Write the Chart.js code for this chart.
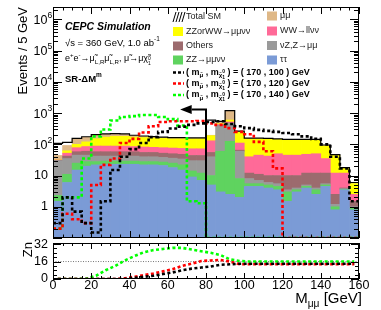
<!DOCTYPE html>
<html>
<head>
<meta charset="utf-8">
<script src="https://cdn.jsdelivr.net/npm/chart.js@4.4.1/dist/chart.umd.min.js"></script>
<style>
  body { margin: 0; background: #fff; }
  #box { position: relative; width: 381px; height: 310px; }
  #box canvas { position: absolute; left: 0; top: 0; }
</style>
</head>
<body>
<div id="box">
  <canvas id="mainChart" width="381" height="310"></canvas>
  <canvas id="znChart" width="381" height="310"></canvas>
</div>
<script>
// lower edges of the 5 GeV bins in M_mumu
const massBins = [0, 5, 10, 15, 20, 25, 30, 35, 40, 45, 50, 55, 60, 65, 70, 75,
                  80, 85, 90, 95, 100, 105, 110, 115, 120, 125, 130, 135, 140, 145, 150, 155];

// backgrounds, events / 5 GeV (stacked bottom -> top)
const tautau   = [1.5, 6, 15, 20, 22, 23, 23, 23, 23, 22, 22, 21, 18, 15, 9, 7, 5, 3, 2.5, 2, 4.5, 4.5, 4, 3.5, 1.5, 3, 4, 2.5, 4.5, 0.8, 3.5, 0.8];
const zzMMNN   = [0.8, 5, 10, 8, 6, 6, 6, 6, 6, 6, 6, 6, 7, 7, 5, 5, 5, 57, 122, 6, 1, 1, 1, 1, 1.5, 0.5, 0.5, 1, 0.5, 0.2, 0.1, 0.1];
const nuZ      = [27.7, 24, 20, 17, 14, 13, 13, 13, 13, 12, 12, 11, 11, 12, 16, 18, 30, 340, 345, 52, 2.5, 1.5, 1, 1, 0.5, 0.5, 0.5, 0.5, 0.5, 0.2, 0.2, 0.1];
const others   = [1, 7, 13, 15, 16, 16, 16, 16, 16, 15, 15, 14, 14, 14, 14, 14, 15, 10, 10, 5, 4, 4, 4, 4.5, 6.5, 6, 7, 8, 6.5, 1.3, 0.2, 0.5];
const wwLVLV   = [0.5, 10, 20, 25, 30, 30, 30, 30, 27, 27, 25, 26, 26, 26, 28, 28, 75, 20, 40, 45, 28, 34, 32, 40, 35, 35, 36, 38, 23, 9.5, 8, 1];
const zzOrWW   = [0.5, 10, 22, 35, 62, 82, 92, 92, 85, 83, 80, 77, 74, 76, 78, 78, 60, 30, 80, 140, 110, 105, 108, 95, 95, 95, 92, 90, 55, 32, 5, 3];
const muMu     = [12, 30, 50, 50, 50, 40, 35, 30, 20, 15, 12, 10, 10, 8, 6, 5, 5, 40, 580, 5, 2, 2, 1, 1, 1, 1, 1, 1, 1, 0.5, 0.2, 0.1];
const totalSM  = [107, 116, 155, 175, 205, 215, 220, 215, 195, 185, 177, 170, 165, 163, 160, 160, 600, 540, 1200, 265, 158, 158, 156, 150, 145, 145, 145, 145, 95, 47, 18, 6];

// signals (m_smuon, m_chi) = (170,100), (170,120), (170,140)
const sig100 = [0.3, 2, 0.7, 0.3, 0.15, 1.5, 15, 40, 70, 110, 170, 250, 320, 370, 420, 470, 520, 550, 450, 380, 330, 290, 270, 250, 230, 210, 180, 150, 100, 40, 17, 1.5];
const sig120 = [0.2, 0.6, 0.4, 0.3, 5, 22, 35, 110, 150, 240, 380, 520, 550, 550, 550, 560, 470, 420, 330, 250, 210, 120, 60, 17, 0, 0, 0, 0, 0, 0, 0, 0];
const sig140 = [0.2, 2, 2, 35, 180, 300, 580, 750, 800, 870, 870, 750, 640, 400, 1.5, 1.3, 0, 0, 0, 0, 0, 0, 0, 0, 0, 0, 0, 0, 0, 0, 0, 0];

// significance Zn per bin (lower pad)
const zn100 = [0, 0, 0, 0, 0, 0, 0, 0, 1, 2, 3, 4.5, 6, 8, 9.5, 10.5, 11.5, 13, 13.5, 14, 14, 14, 14, 14, 14, 14, 14, 14, 14, 14, 14, 14];
const zn120 = [0, 0, 0, 0, 0, 0, 0, 0.7, 2, 3.5, 5, 7, 9, 12, 14, 16.5, 17, 17.5, 16, 13.5, 13.5, 13.5, 13.5, 13.5, 13.5, 13.5, 13.5, 13.5, 13.5, 13.5, 13.5, 13.5];
const zn140 = [0, 0, 0, 0.3, 3, 8, 12, 17, 21, 24.5, 26.5, 27.5, 28.5, 28.5, 27, 25.5, 24, 22, 18, 16.5, 16, 16, 16, 16, 16, 16, 16, 16, 16, 16, 16, 16];
const znRef = 16;

// axis ticks
const logDecades = [-1, 0, 1, 2, 3, 4, 5, 6];
const xTickLabels = [0, 20, 40, 60, 80, 100, 120, 140, 160];
const znTickLabels = [0, 16, 32];

// cut and arrow
const cutValue = 80, arrowLevel = 1300, arrowTip = 66.5, arrowBase = 72.5;

const bkgNames  = ['ττ', 'ZZ→μμνν', 'νZ,Z→μμ', 'Others', 'WW→llνν', 'ZZorWW→μμνν', 'μμ'];
const bkgValues = [tautau, zzMMNN, nuZ, others, wwLVLV, zzOrWW, muMu];
const bkgColors = ['#7b9bd6', '#5fd35f', '#9a9a9a', '#9c6b6e', '#ff6a98', '#ffff00', '#dfb887'];
const sigMasses = [100, 120, 140];
const sigColors = ['#000000', '#ff0000', '#00ff00'];

const yMin = 0.1, yMax = 2.5e6;
const FONT = '"Liberation Sans", Arial, Helvetica, sans-serif';
const fnt = (size, style) => (style ? style + ' ' : '') + size + 'px ' + FONT;

const centers = massBins.map(m => m + 2.5);
const barPts = vals => vals.map((v, i) => ({x: centers[i], y: v}));
const stepPts = vals => {
  const pts = vals.map((v, i) => ({x: massBins[i], y: v > 0 ? v : yMin}));
  pts.push({x: 160, y: pts[pts.length - 1].y});
  return pts;
};

// draw text with sub/superscripts, returns end x
function rich(ctx, x, y, parts, size, style, measureOnly) {
  let cx = x;
  ctx.textBaseline = 'middle';
  ctx.textAlign = 'left';
  for (const [t, mode, t2] of parts) {
    if (mode === 'sub' || mode === 'sup') {
      ctx.font = fnt(size * 0.68, style);
      if (!measureOnly) ctx.fillText(t, cx, y + (mode === 'sub' ? size * 0.32 : -size * 0.4));
      cx += ctx.measureText(t).width;
    } else if (mode === 'subsup') {
      ctx.font = fnt(size * 0.55, style);
      if (!measureOnly) {
        ctx.fillText(t, cx, y + size * 0.55);
        ctx.fillText(t2, cx, y - size * 0.05);
      }
      cx += Math.max(ctx.measureText(t).width, ctx.measureText(t2).width);
    } else {
      ctx.font = fnt(size, style);
      if (!measureOnly) ctx.fillText(t, cx, y);
      cx += ctx.measureText(t).width;
    }
  }
  return cx;
}

const mainDecor = {
  id: 'mainDecor',
  afterDraw(chart) {
    const {ctx, chartArea: a, scales: {x, y}} = chart;
    ctx.save();
    ctx.fillStyle = '#000';
    ctx.strokeStyle = '#000';

    // cut line with arrow
    const cx = x.getPixelForValue(cutValue);
    const cy = y.getPixelForValue(arrowLevel);
    const hb = x.getPixelForValue(arrowBase);
    ctx.lineWidth = 2;
    ctx.beginPath();
    ctx.moveTo(cx, a.bottom);
    ctx.lineTo(cx, cy);
    ctx.lineTo(hb, cy);
    ctx.stroke();
    ctx.beginPath();
    ctx.moveTo(x.getPixelForValue(arrowTip), cy);
    ctx.lineTo(hb, cy - 4.5);
    ctx.lineTo(hb, cy + 4.5);
    ctx.closePath();
    ctx.fill();

    // frame
    ctx.lineWidth = 1;
    ctx.strokeRect(a.left + 0.5, a.top + 0.5, a.right - a.left - 1, a.bottom - a.top - 1);

    // log y ticks, both sides
    ctx.beginPath();
    logDecades.forEach(e => {
      for (let k = 1; k <= 9; k++) {
        const v = k * Math.pow(10, e);
        if (v < yMin || v > yMax) continue;
        const py = Math.round(y.getPixelForValue(v)) + 0.5;
        const len = k === 1 ? 9 : 5;
        ctx.moveTo(a.left, py); ctx.lineTo(a.left + len, py);
        ctx.moveTo(a.right, py); ctx.lineTo(a.right - len, py);
      }
    });
    // x ticks, bottom and top
    for (let v = 0; v <= 160; v += 5) {
      const px = Math.round(x.getPixelForValue(v)) + 0.5;
      const len = v % 20 === 0 ? 7 : 3.5;
      ctx.moveTo(px, a.bottom); ctx.lineTo(px, a.bottom - len);
      ctx.moveTo(px, a.top); ctx.lineTo(px, a.top + len);
    }
    ctx.stroke();

    // y labels
    logDecades.forEach(e => {
      if (e < 0) return;
      const py = y.getPixelForValue(Math.pow(10, e));
      ctx.textBaseline = 'middle';
      ctx.font = fnt(12.5);
      if (e < 2) {
        ctx.textAlign = 'right';
        ctx.fillText(e === 0 ? '1' : '10', 48, py);
      } else {
        ctx.textAlign = 'right';
        ctx.fillText('10', 47.5, py + 1);
        ctx.textAlign = 'left';
        ctx.font = fnt(8.5);
        ctx.fillText(String(e), 47.5, py - 4);
      }
    });

    // y title
    ctx.save();
    ctx.translate(23, 7);
    ctx.rotate(-Math.PI / 2);
    ctx.font = fnt(13);
    ctx.textAlign = 'right';
    ctx.textBaseline = 'middle';
    ctx.fillText('Events / 5 GeV', 0, 0);
    ctx.restore();

    // labels block
    ctx.fillStyle = '#000';
    ctx.font = fnt(10.5, 'italic bold');
    ctx.textAlign = 'left';
    ctx.textBaseline = 'middle';
    ctx.fillText('CEPC Simulation', 65, 27);
    rich(ctx, 65, 43, [['√s = 360 GeV, 1.0 ab'], ['-1', 'sup']], 9.5);
    rich(ctx, 65, 59, [['e'], ['+', 'sup'], ['e'], ['-', 'sup'], ['→μ̃'], ['L,R', 'sub'], ['μ̃'], ['L,R', 'sub'],
                       [', μ̃→μχ̃'], ['1', 'subsup', '0']], 9);
    rich(ctx, 65, 79, [['SR-ΔM'], ['m', 'sup']], 9.5, 'bold');

    // legend
    const boxes = [
      {i: 5, bx: 173, y: 31.5}, {i: 3, bx: 173, y: 46}, {i: 1, bx: 173, y: 60},
      {i: 6, bx: 267, y: 16}, {i: 4, bx: 267, y: 31}, {i: 2, bx: 267, y: 45.5}, {i: 0, bx: 267, y: 60}
    ];
    boxes.forEach(b => {
      ctx.fillStyle = bkgColors[b.i];
      ctx.fillRect(b.bx, b.y - 4.5, 10, 9);
      ctx.fillStyle = '#222';
      ctx.font = fnt(9);
      ctx.textAlign = 'left';
      ctx.fillText(bkgNames[b.i], b.bx + 13, b.y);
    });
    // total SM hatch icon
    ctx.strokeStyle = '#000';
    ctx.lineWidth = 1;
    ctx.beginPath();
    for (let d = 0; d < 4; d++) {
      ctx.moveTo(173 + d * 3, 22); ctx.lineTo(176 + d * 3, 12);
    }
    ctx.stroke();
    ctx.fillStyle = '#222';
    ctx.fillText('Total SM', 186, 17);
    // signal entries
    const sy = [72.5, 83.5, 95];
    sigMasses.forEach((m, i) => {
      ctx.strokeStyle = sigColors[i];
      ctx.lineWidth = 2.5;
      ctx.setLineDash([3, 2]);
      ctx.beginPath();
      ctx.moveTo(173, sy[i]); ctx.lineTo(184, sy[i]);
      ctx.stroke();
      ctx.setLineDash([]);
      ctx.fillStyle = '#000';
      rich(ctx, 186, sy[i], [['( m'], ['μ̃', 'sub'], [' , m'], ['χ̃', 'sub'], ['1', 'subsup', '0'],
                             [' ) = ( 170 , ' + m + ' ) GeV']], 9, 'bold');
    });
    ctx.restore();
  }
};

const bkgSets = bkgValues.map((vals, i) => ({
  type: 'bar',
  label: bkgNames[i],
  data: barPts(vals),
  backgroundColor: bkgColors[i],
  borderWidth: 0,
  barPercentage: 1,
  categoryPercentage: 1,
  stack: 'bkg',
  order: 2
}));

const sigSets = [sig100, sig120, sig140].map((vals, i) => ({
  type: 'line',
  label: 'sig' + sigMasses[i],
  data: stepPts(vals),
  stepped: 'before',
  borderColor: sigColors[i],
  borderWidth: 2.6,
  borderDash: [3, 2.5],
  pointRadius: 0,
  fill: false,
  stack: 's' + i,
  order: 0
}));

const totalSet = {
  type: 'line',
  label: 'Total SM',
  data: stepPts(totalSM),
  stepped: 'before',
  borderColor: '#000',
  borderWidth: 1.2,
  pointRadius: 0,
  fill: false,
  stack: 'tot',
  order: 1
};

new Chart(document.getElementById('mainChart'), {
  data: { datasets: [...sigSets, totalSet, ...bkgSets] },
  options: {
    responsive: false,
    devicePixelRatio: 1,
    animation: false,
    layout: { padding: { left: 53, right: 22, top: 7, bottom: 72 } },
    plugins: { legend: { display: false }, tooltip: { enabled: false } },
    scales: {
      x: { type: 'linear', min: 0, max: 160, offset: false, stacked: true, display: false },
      y: { type: 'logarithmic', min: yMin, max: yMax, stacked: true, display: false }
    }
  },
  plugins: [mainDecor]
});

// lower pad
const znDecor = {
  id: 'znDecor',
  afterDraw(chart) {
    const {ctx, chartArea: a, scales: {x, y}} = chart;
    ctx.save();
    ctx.strokeStyle = '#000';
    ctx.fillStyle = '#000';
    ctx.lineWidth = 1;
    ctx.strokeRect(a.left + 0.5, a.top + 0.5, a.right - a.left - 1, a.bottom - a.top - 1);
    ctx.beginPath();
    for (let v = 0; v <= 32; v += 4) {
      const py = Math.round(y.getPixelForValue(v)) + 0.5;
      const len = v % 16 === 0 ? 8 : 4;
      ctx.moveTo(a.left, py); ctx.lineTo(a.left + len, py);
      ctx.moveTo(a.right, py); ctx.lineTo(a.right - len, py);
    }
    for (let v = 0; v <= 160; v += 5) {
      const px = Math.round(x.getPixelForValue(v)) + 0.5;
      const len = v % 20 === 0 ? 6 : 3;
      ctx.moveTo(px, a.bottom); ctx.lineTo(px, a.bottom - len);
      ctx.moveTo(px, a.top); ctx.lineTo(px, a.top + len);
    }
    ctx.stroke();

    ctx.font = fnt(12.5);
    ctx.textBaseline = 'middle';
    ctx.textAlign = 'right';
    znTickLabels.forEach(v => ctx.fillText(String(v), 48, y.getPixelForValue(v)));
    ctx.textAlign = 'center';
    xTickLabels.forEach(v => ctx.fillText(String(v), x.getPixelForValue(v), 285.5));

    // x title, right aligned
    const parts = [['M'], ['μμ', 'sub'], [' [GeV]']];
    const w = rich(ctx, 0, 0, parts, 15, '', true) - 0;
    rich(ctx, 362 - w, 299, parts, 15);

    ctx.save();
    ctx.translate(28, 242);
    ctx.rotate(-Math.PI / 2);
    ctx.font = fnt(13);
    ctx.textAlign = 'right';
    ctx.textBaseline = 'middle';
    ctx.fillText('Zn', 0, 0);
    ctx.restore();
    ctx.restore();
  }
};

const znSets = [zn100, zn120, zn140].map((vals, i) => ({
  label: 'zn' + sigMasses[i],
  data: vals.map((v, j) => ({x: centers[j], y: v})),
  borderColor: sigColors[i],
  borderWidth: 2.6,
  borderDash: [3, 2.5],
  pointRadius: 0,
  fill: false
}));
znSets.push({
  label: 'ref',
  data: [{x: 0, y: znRef}, {x: 160, y: znRef}],
  borderColor: '#555',
  borderWidth: 0.8,
  borderDash: [1, 1.5],
  pointRadius: 0,
  fill: false,
  order: 5
});

new Chart(document.getElementById('znChart'), {
  type: 'line',
  data: { datasets: znSets },
  options: {
    responsive: false,
    devicePixelRatio: 1,
    animation: false,
    layout: { padding: { left: 53, right: 22, top: 243, bottom: 31 } },
    plugins: { legend: { display: false }, tooltip: { enabled: false } },
    scales: {
      x: { type: 'linear', min: 0, max: 160, display: false },
      y: { type: 'linear', min: 0, max: 33, display: false }
    }
  },
  plugins: [znDecor]
});
</script>
</body>
</html>
